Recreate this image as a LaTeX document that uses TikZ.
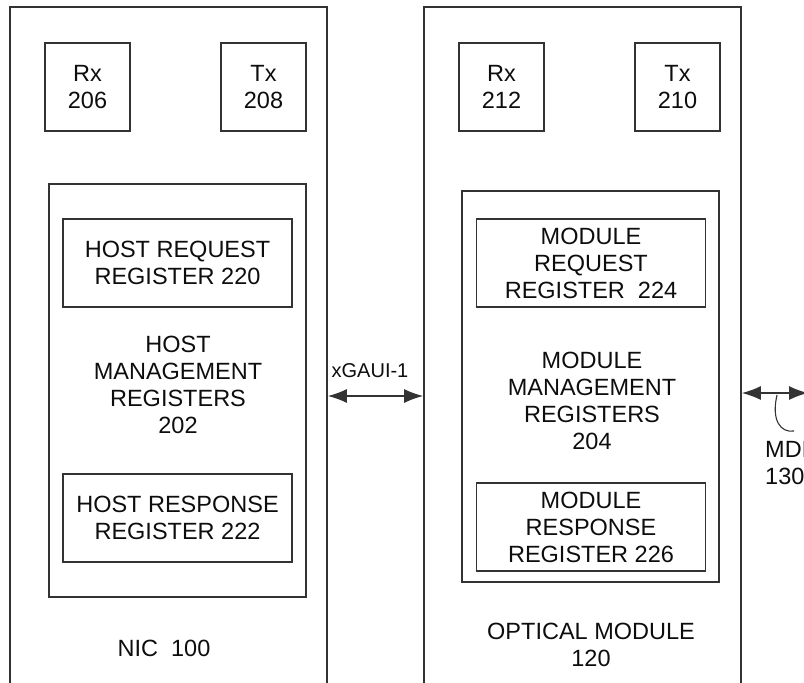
\documentclass[tikz,border=0pt]{standalone}
\usepackage{fontspec}
\setmainfont{Liberation Sans}
\usetikzlibrary{arrows.meta}

\begin{document}
\begin{tikzpicture}[x=1pt,y=-1pt,
    box/.style={draw=linecolor,line width=1.2pt,inner sep=0pt},
    outer/.style={box,line width=1.7pt,minimum height=713pt},
    txt/.style={align=center,inner sep=0pt,font=\fontsize{23.5}{27}\selectfont,text=textcolor},
    link/.style={{Latex[length=19pt,width=14pt]}-{Latex[length=19pt,width=14pt]},line width=1.4pt,draw=linecolor}]

    \colorlet{linecolor}{black!80}
    \colorlet{textcolor}{black!95}

    \useasboundingbox (0,0) rectangle (804,683);
    \clip (0,0) rectangle (804,683);

    % NIC side
    \node[outer,minimum width=317pt] (nic) at (168.5,363.5) {};
    \node[box,txt,minimum width=85pt,minimum height=88pt] (rx206) at (87.5,87) {Rx\\206};
    \node[box,txt,minimum width=85pt,minimum height=88pt] (tx208) at (263.5,87) {Tx\\208};
    \node[box,line width=1.5pt,minimum width=257pt,minimum height=413pt] (hostmgmt) at (177.5,390.5) {};
    \node[box,txt,minimum width=229pt,minimum height=88pt] (hostreq) at (177.5,263) {HOST REQUEST\\REGISTER 220};
    \node[txt] (hostlbl) at (178,385) {HOST\\MANAGEMENT\\REGISTERS\\202};
    \node[box,txt,minimum width=229pt,minimum height=88pt] (hostresp) at (177.5,518) {HOST RESPONSE\\REGISTER 222};
    \node[txt] (niclbl) at (164,648) {NIC\ \ 100};

    % optical module side
    \node[outer,minimum width=317pt] (optical) at (582.5,363.5) {};
    \node[box,txt,minimum width=85pt,minimum height=88pt] (rx212) at (501.5,87) {Rx\\212};
    \node[box,txt,minimum width=85pt,minimum height=88pt] (tx210) at (677.5,87) {Tx\\210};
    \node[box,line width=1.5pt,minimum width=257pt,minimum height=391pt] (modmgmt) at (590.5,386.5) {};
    \node[box,txt,minimum width=229pt,minimum height=88pt] (modreq) at (591,263) {MODULE\\REQUEST\\REGISTER\ \ 224};
    \node[txt] (modlbl) at (592,401) {MODULE\\MANAGEMENT\\REGISTERS\\204};
    \node[box,txt,minimum width=229pt,minimum height=88pt] (modresp) at (591,527) {MODULE\\RESPONSE\\REGISTER 226};
    \node[txt] (optlbl) at (591,645) {OPTICAL MODULE\\120};

    % links
    \coordinate (xgaui) at (375,396);
    \draw[link] (xgaui -| nic.east) -- (xgaui -| optical.west);
    \node[txt,font=\fontsize{20}{24}\selectfont] (gauilbl) at (370,371) {xGAUI-1};

    \coordinate (mdiend) at (808,393);
    \draw[link] (mdiend -| optical.east) -- (mdiend);
    \draw[linecolor,line width=1.1pt] (777,395) .. controls (771,421) and (781,433) .. (794,431);
    \node[txt,align=left,anchor=north west] (mdilbl) at (765,441) {MDI\\130};

\end{tikzpicture}
\end{document}
